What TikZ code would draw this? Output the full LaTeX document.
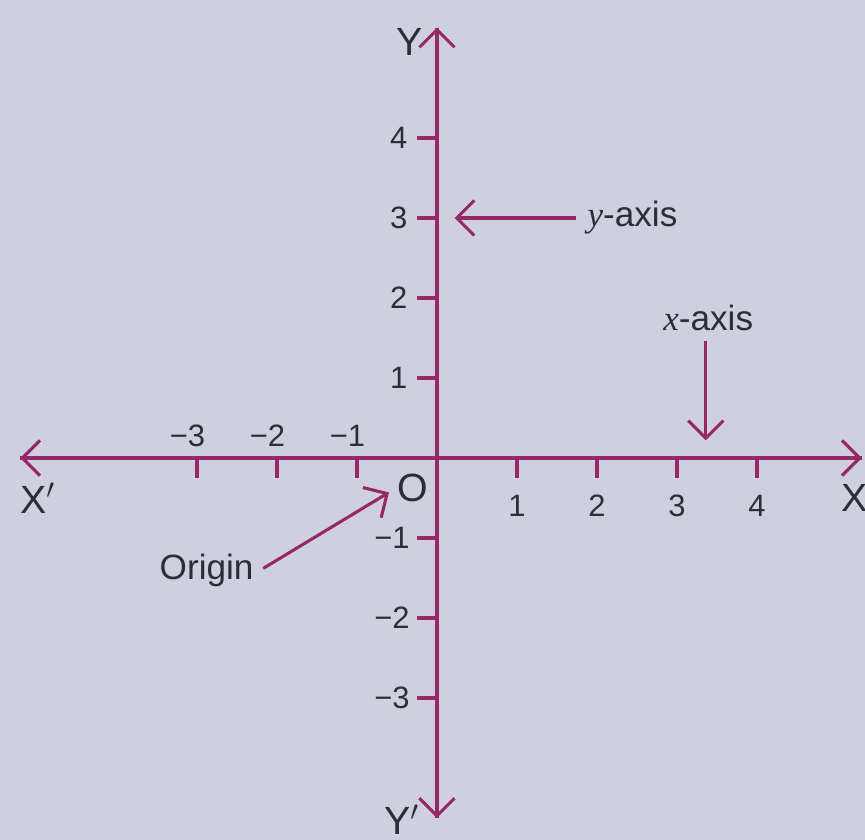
\documentclass[tikz,border=0pt]{standalone}
\usepackage{fontspec}
\setmainfont{Liberation Sans}
\newfontfamily\mathserif{Liberation Serif}
\usetikzlibrary{arrows.meta}
\definecolor{paper}{RGB}{206,209,221}
\definecolor{axisc}{RGB}{150,40,105}
\definecolor{inkc}{RGB}{45,45,55}

\begin{document}
\begin{tikzpicture}[
  axis/.style={draw=axisc, line width=1.1pt},
  barb/.style={-{Straight Barb[length=2.2mm,width=4.4mm,line width=1.1pt]}, axis},
  tick/.style={axis},
  num/.style={font=\fontsize{11}{13}\selectfont, text=inkc, inner sep=1pt},
  big/.style={font=\fontsize{14}{16}\selectfont, text=inkc, inner sep=1pt},
  note/.style={font=\fontsize{12.5}{15}\selectfont, text=inkc, inner sep=1pt}
]
%% Paper and frame
\fill[paper] (-5.4625,-4.775) rectangle (5.35,5.725);
\useasboundingbox (-5.4625,-4.775) rectangle (5.35,5.725);

%% Axes
\coordinate (xneg) at (-5.21,0);
\coordinate (xpos) at (5.31,0);
\coordinate (ypos) at (0,5.38);
\coordinate (yneg) at (0,-4.5);
\draw[barb] (xpos) -- (xneg);
\draw[barb] (xneg) -- (xpos);
\draw[barb] (yneg) -- (ypos);
\draw[barb] (ypos) -- (yneg);

%% Axis names
\node[big] (Xp) at (-4.99,-0.5) {X$'$};
\node[big] (X)  at (5.22,-0.5) {X};
\node[big] (Y)  at (-0.34,5.2) {Y};
\node[big] (Yp) at (-0.44,-4.52) {Y$'$};
\node[big] (O)  at (-0.3,-0.37) {O};

%% Ticks on x-axis
\foreach \x in {1,2,3,4}{
  \draw[tick] (\x,0) -- (\x,-0.25);
  \node[num] (xt\x) at (\x,-0.6) {\x};
}
\foreach \x in {1,2,3}{
  \draw[tick] (-\x,0) -- (-\x,-0.25);
  \node[num] (xn\x) at (-\x-0.12,0.28) {−\x};
}

%% Ticks on y-axis
\foreach \y in {1,2,3,4}{
  \draw[tick] (0,\y) -- (-0.25,\y);
  \node[num, anchor=east] (yt\y) at (-0.33,\y) {\y};
}
\foreach \y in {1,2,3}{
  \draw[tick] (0,-\y) -- (-0.25,-\y);
  \node[num, anchor=east] (yn\y) at (-0.3,-\y) {−\y};
}

%% Pointers
\node[note, anchor=west] (ylab) at (1.84,3) {{\mathserif\itshape y}-axis};
\coordinate (yhit) at (0.22,3);
\draw[barb] (ylab.west) ++(-0.1,0) -- (yhit);

\node[note] (xlab) at (3.39,1.75) {{\mathserif\itshape x}-axis};
\coordinate (xhit) at (3.36,0.22);
\draw[barb] (xlab.south -| xhit) ++(0,-0.08) -- (xhit);

\node[note] (orig) at (-2.88,-1.4) {Origin};
\coordinate (ohit) at (-0.6,-0.43);
\draw[barb] (orig.east) ++(0.08,0.02) -- (ohit);
\end{tikzpicture}
\end{document}
